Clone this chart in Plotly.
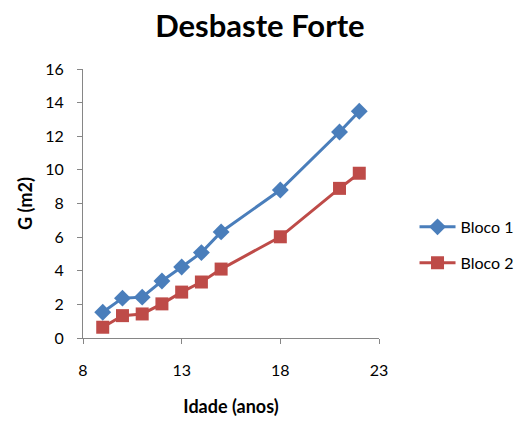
import plotly.graph_objects as go

idade = [9, 10, 11, 12, 13, 14, 15, 18, 21, 22]
bloco1 = [1.53, 2.37, 2.43, 3.39, 4.22, 5.08, 6.31, 8.8, 12.25, 13.49]
bloco2 = [0.64, 1.33, 1.43, 2.03, 2.73, 3.33, 4.1, 6.02, 8.9, 9.8]
x_ticks = [8, 13, 18, 23]
y_ticks = list(range(0, 17, 2))

FONT = "Lato"
fig = go.Figure()
fig.add_trace(go.Scatter(
    x=idade, y=bloco1, name="Bloco 1", mode="lines+markers", legendgroup="a",
    line=dict(color="#4A7EBB", width=3),
    marker=dict(symbol="diamond", size=13, color="#4A7EBB"),
))
fig.add_trace(go.Scatter(
    x=idade, y=bloco2, name="Bloco 2", mode="lines+markers", legendgroup="b",
    line=dict(color="#BE4B48", width=3),
    marker=dict(symbol="square", size=13, color="#BE4B48"),
))

fig.update_layout(
    width=523, height=422,
    margin=dict(l=83, r=144, t=69, b=84, autoexpand=False),
    paper_bgcolor="white", plot_bgcolor="white",
    font=dict(family=FONT, size=16, color="black"),
    title=dict(text="<b>Desbaste Forte</b>", x=0.497, xanchor="center",
               y=0.937, yanchor="middle", font=dict(size=31, family=FONT)),
    showlegend=True,
    legend=dict(x=1.12, xanchor="left", y=0.346, yanchor="middle",
                tracegroupgap=12, itemwidth=36, font=dict(size=16, family=FONT),
                bgcolor="rgba(0,0,0,0)"),
    xaxis=dict(range=[8, 23], tickvals=x_ticks, showgrid=False, zeroline=False,
               showline=True, linecolor="#868686", linewidth=1,
               ticks="outside", ticklen=5, tickcolor="#868686",
               ticklabelstandoff=13, automargin=False,
               title=dict(text="<b>Idade (anos)</b>", font=dict(size=18), standoff=22)),
    yaxis=dict(range=[0, 16], tickvals=y_ticks, showgrid=False, zeroline=False,
               showline=True, linecolor="#868686", linewidth=1,
               ticks="outside", ticklen=5, tickcolor="#868686",
               ticklabelstandoff=10, automargin=False,
               title=dict(text="<b>G (m2)</b>", font=dict(size=18), standoff=7)),
)

fig.write_html("out.html")
